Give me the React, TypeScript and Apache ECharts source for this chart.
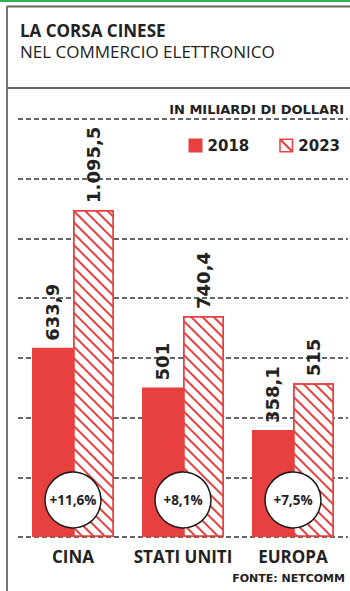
import React, { useEffect, useRef } from "react";
import * as echarts from "echarts";

const categories = ["CINA", "STATI UNITI", "EUROPA"];
const values2018 = [633.9, 501, 358.1];
const values2023 = [1095.5, 740.4, 515];
const labels2018 = ["633,9", "501", "358,1"];
const labels2023 = ["1.095,5", "740,4", "515"];
const growthLabels = ["+11,6%", "+8,1%", "+7,5%"];
const growthAnchor = [124, 124, 124];
const yMin = 0;
const yMax = 1400;
const yInterval = 200;

const RED = "#e8403f";
const INK = "#222";

const hatchIcon =
  "path://M0,0L14,0L14,14L0,14Z M1.5,1.5L1.5,12.5L12.5,12.5L12.5,1.5Z M1.5,1.5L3,1.5L12.5,11L12.5,12.5L11,12.5L1.5,3Z";

export default function App() {
  const ref = useRef<HTMLDivElement>(null);
  useEffect(() => {
    if (!ref.current) return;
    const chart = echarts.init(ref.current, null, { renderer: "svg" });
    const valueFont = {
      fontFamily: "DejaVu Sans",
      fontWeight: "bold" as const,
      fontSize: 18,
      color: INK,
    };
    chart.setOption({
      animation: false,
      backgroundColor: "#fff",
      grid: { left: 18, right: 2, top: 119, bottom: 54, containLabel: false },
      legend: {
        right: 5,
        top: 133,
        itemWidth: 14,
        itemHeight: 14,
        itemGap: 30,
        textStyle: {
          fontFamily: "DejaVu Sans",
          fontWeight: "bold",
          fontSize: 15,
          color: INK,
        },
        data: [
          { name: "2018", icon: "rect", itemStyle: { color: RED, borderWidth: 0 } },
          {
            name: "2023",
            icon: hatchIcon,
            itemStyle: { color: RED, borderWidth: 0, decal: "none" },
          },
        ],
      },
      xAxis: {
        type: "category",
        data: categories,
        axisLine: { show: false },
        axisTick: { show: false },
        axisLabel: {
          interval: 0,
          hideOverlap: false,
          margin: 11,
          fontFamily: "Open Sans",
          fontWeight: "bold",
          fontSize: 17,
          color: INK,
        },
      },
      yAxis: {
        type: "value",
        min: yMin,
        max: yMax,
        interval: yInterval,
        axisLabel: { show: false },
        axisLine: { show: false },
        axisTick: { show: false },
        splitLine: {
          show: true,
          lineStyle: { color: "#333", width: 1.5, type: [5, 3] },
        },
      },
      series: [
        {
          name: "2018",
          type: "bar",
          data: values2018,
          barWidth: 41,
          barGap: "0%",
          itemStyle: { color: RED },
          label: {
            show: true,
            position: "top",
            rotate: 90,
            align: "left",
            verticalAlign: "middle",
            distance: 7,
            formatter: (p: any) => labels2018[p.dataIndex],
            ...valueFont,
          },
        },
        {
          name: "2023",
          type: "bar",
          data: values2023,
          barWidth: 41,
          barGap: "0%",
          itemStyle: {
            color: "#fff",
            borderColor: RED,
            borderWidth: 1.5,
            decal: {
              symbol: "rect",
              symbolSize: 1,
              dashArrayX: [1, 0],
              dashArrayY: [2, 6],
              rotation: Math.PI / 4,
              color: RED,
            },
          },
          label: {
            show: true,
            position: "top",
            rotate: 90,
            align: "left",
            verticalAlign: "middle",
            distance: 7,
            formatter: (p: any) => labels2023[p.dataIndex],
            ...valueFont,
          },
        },
        {
          name: "growth",
          type: "scatter",
          data: growthAnchor,
          symbol: "circle",
          symbolSize: 56,
          z: 5,
          itemStyle: { color: "#fff", borderColor: "#1a1a1a", borderWidth: 1.5, opacity: 1 },
          label: {
            show: true,
            position: "inside",
            formatter: (p: any) => growthLabels[p.dataIndex],
            fontFamily: "Open Sans",
            fontWeight: "bold",
            fontSize: 13.5,
            color: INK,
          },
          emphasis: { disabled: true },
        },
      ],
      graphic: [
        { type: "rect", left: 0, top: 0, shape: { x: 0, y: 0, width: 350, height: 2 }, style: { fill: "#2eb34f" } },
        { type: "line", shape: { x1: 7, y1: 6.5, x2: 350, y2: 6.5 }, style: { stroke: "#666", lineWidth: 2 } },
        { type: "line", shape: { x1: 7, y1: 6, x2: 7, y2: 591 }, style: { stroke: "#777", lineWidth: 2 } },
        { type: "line", shape: { x1: 7, y1: 88, x2: 350, y2: 88 }, style: { stroke: "#666", lineWidth: 2 } },
        {
          type: "text",
          x: 20,
          y: 30,
          style: {
            text: "LA CORSA CINESE",
            font: "bold 17px 'Open Sans'",
            fill: INK,
            verticalAlign: "middle",
          },
        },
        {
          type: "text",
          x: 20,
          y: 51,
          style: {
            text: "NEL COMMERCIO ELETTRONICO",
            font: "17px 'Open Sans'",
            fill: INK,
            verticalAlign: "middle",
          },
        },
        {
          type: "text",
          x: 344,
          y: 109,
          style: {
            text: "IN MILIARDI DI DOLLARI",
            font: "bold 13px 'DejaVu Sans'",
            fill: INK,
            align: "right",
            verticalAlign: "middle",
          },
        },
        {
          type: "text",
          x: 345,
          y: 578,
          style: {
            text: "FONTE: NETCOMM",
            font: "bold 11px 'DejaVu Sans'",
            fill: INK,
            align: "right",
            verticalAlign: "middle",
          },
        },
      ],
    });
    return () => chart.dispose();
  }, []);
  return (
    <div
      ref={ref}
      style={{ position: "absolute", left: 0, top: 0, width: 350, height: 591 }}
    />
  );
}
